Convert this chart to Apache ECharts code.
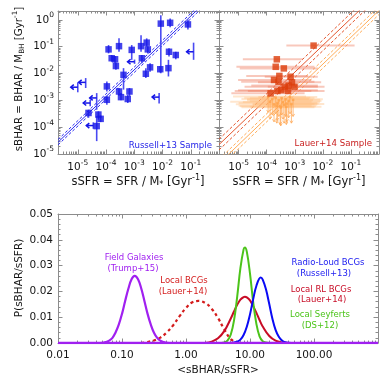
<!DOCTYPE html>
<html>
<head>
<meta charset="utf-8">
<script src="https://cdn.jsdelivr.net/npm/echarts@6/dist/echarts.min.js"></script>
<style>
  html, body { margin: 0; padding: 0; background: #fff; }
  #chart { width: 390px; height: 390px; }
</style>
</head>
<body>
<div id="chart"></div>
<script>
// ---- data (top panels in log10 units) ----
// Russell+13 detections: log sSFR, log sBHAR, vertical error bar ends
const rusLogSSFR  = [-4.62, -4.33, -4.27, -4.19, -3.97, -3.97, -3.91, -3.80, -3.68, -3.65, -3.54, -3.54, -3.47, -3.38, -3.23,
                     -3.17, -3.09, -2.76, -2.73, -2.59, -2.56, -2.52, -2.44, -2.08, -2.06, -1.73, -1.79, -1.77, -1.53, -1.10];
const rusLogSBHAR = [-3.47, -3.96, -3.53, -3.69, -2.48, -2.98, -1.10, -1.43, -1.47, -1.72, -0.98, -2.67, -2.88, -2.05, -2.95,
                     -2.67, -1.12, -0.98, -1.43, -2.01, -0.85, -1.10, -1.77, -1.84, -0.14, -0.11, -1.80, -1.19, -1.31, -0.17];
const rusErrHi    = [-3.35, -3.59, -3.41, -3.57, -2.30, -2.83, -0.94, -1.31, -1.35, -1.59, -0.69, -2.54, -2.73, -1.80, -2.79,
                     -2.54, -0.94, -0.57, -1.31, -1.80, -0.69, -0.98, -1.62, -1.72, 0.17, 0.05, -1.49, -1.06, -1.19, 0.01];
const rusErrLo    = [-3.65, -4.52, -3.72, -3.81, -2.67, -3.16, -1.25, -1.56, -1.62, -1.86, -1.19, -2.83, -3.00, -2.60, -3.10,
                     -2.85, -1.49, -1.19, -1.62, -2.17, -1.00, -1.25, -1.93, -1.96, -1.99, -0.28, -2.11, -1.37, -1.47, -0.36];
// Russell+13 upper limits on sSFR (left arrows)
const rusLimLogSSFR  = [-5.00, -4.72, -4.56, -4.33, -4.45, -2.99, -2.12, -0.90];
const rusLimLogSBHAR = [-2.51, -2.33, -3.10, -2.91, -3.94, -1.56, -2.88, -1.19];
const rusLimErrHi    = [-2.33, -2.17, -2.98, -2.73, -3.82, -1.48, -2.73, -0.85];
const rusLimErrLo    = [-2.70, -2.54, -3.22, -3.35, -4.06, -1.64, -3.12, -1.49];

// Lauer+14 radio-loud BCGs (red squares) with sSFR ranges
const lauLogSSFR  = [-2.33, -3.64, -3.68, -3.39, -3.55, -3.74, -3.15, -3.58, -3.10, -3.22, -3.36, -3.01, -3.48, -3.24, -3.62, -3.86];
const lauLogSBHAR = [-0.96, -1.47, -1.75, -1.81, -2.09, -2.24, -2.12, -2.31, -2.33, -2.45, -2.49, -2.49, -2.62, -2.65, -2.65, -2.74];
const lauSSFRLo   = [-3.30, -4.85, -5.08, -4.96, -4.73, -5.02, -4.07, -4.91, -4.31, -4.55, -4.79, -3.96, -5.02, -4.67, -5.14, -5.26];
const lauSSFRHi   = [-0.87, -2.71, -2.30, -2.18, -2.53, -2.41, -2.18, -2.30, -2.06, -2.18, -1.94, -2.18, -2.18, -1.94, -2.41, -2.65];

// Lauer+14 other BCGs (orange, upper limits on sBHAR)
const bcgLogSSFR  = [-3.95, -3.88, -3.80, -3.74, -3.68, -3.62, -3.57, -3.52, -3.47, -3.42, -3.38, -3.33, -3.28, -3.22, -3.17, -3.12, -3.06, -3.50, -3.64, -3.30];
const bcgLogSBHAR = [-2.86, -3.05, -2.95, -3.15, -2.90, -3.10, -3.00, -3.22, -2.92, -3.06, -3.16, -2.96, -3.12, -3.02, -2.88, -3.14, -2.98, -3.26, -3.20, -3.24];
const bcgSSFRLo   = [-5.20, -5.30, -4.90, -5.10, -4.80, -5.00, -4.70, -4.95, -4.60, -4.85, -4.50, -4.70, -4.40, -4.60, -4.30, -4.50, -4.20, -4.90, -5.00, -4.60];
const bcgSSFRHi   = [-2.60, -2.40, -2.50, -2.30, -2.45, -2.20, -2.35, -2.25, -2.30, -2.10, -2.20, -2.00, -2.15, -2.05, -2.20, -1.95, -2.10, -2.30, -2.40, -2.05];
const bcgLimTip   = [-3.45, -3.70, -3.55, -3.80, -3.50, -3.75, -3.60, -3.90, -3.55, -3.70, -3.85, -3.60, -3.80, -3.65, -3.50, -3.85, -3.60, -3.95, -3.85, -3.90];

// mean log(sBHAR/sSFR) relations and their scatter (dex)
const rusRel = [1.14, 0.10];
const rlRel  = [1.05, 0.20];
const bcgRel = [0.35, 0.15];

// ---- bottom panel distributions: <sBHAR/sSFR> and P ----
const fieldX = [0.040, 0.050, 0.056, 0.063, 0.071, 0.079, 0.089, 0.100, 0.112, 0.126, 0.141, 0.158, 0.178, 0.200, 0.224, 0.251, 0.282, 0.316, 0.355, 0.398, 0.447, 0.501, 0.600];
const fieldP = [0, 0.0001, 0.0004, 0.0009, 0.0020, 0.0040, 0.0071, 0.0113, 0.0163, 0.0211, 0.0247, 0.0260, 0.0247, 0.0211, 0.0163, 0.0113, 0.0071, 0.0040, 0.0020, 0.0009, 0.0004, 0.0001, 0];
const lbcgX = [0.20, 0.251, 0.316, 0.398, 0.501, 0.631, 0.794, 1.00, 1.26, 1.58, 2.00, 2.51, 3.16, 3.98, 5.01, 6.31, 7.0];
const lbcgP = [0, 0.0004, 0.0010, 0.0021, 0.0041, 0.0069, 0.0104, 0.0136, 0.0158, 0.0163, 0.0155, 0.0133, 0.0097, 0.0052, 0.0015, 0.0002, 0];
const rlX = [2.0, 2.51, 3.16, 3.98, 5.01, 5.62, 6.31, 7.08, 7.94, 8.32, 8.91, 10.0, 11.2, 12.6, 14.1, 15.8, 20.0, 25.1, 31.6, 39.8];
const rlP = [0, 0.0005, 0.0018, 0.0047, 0.0095, 0.0122, 0.0148, 0.0168, 0.0178, 0.0179, 0.0177, 0.0165, 0.0143, 0.0117, 0.0089, 0.0064, 0.0027, 0.0009, 0.0002, 0];
const seyX = [3.55, 3.98, 4.47, 5.01, 5.62, 6.31, 7.08, 7.94, 8.32, 8.91, 10.0, 11.2, 12.6, 14.1, 15.8, 17.8, 20.0];
const seyP = [0, 0.0002, 0.0010, 0.0033, 0.0087, 0.0180, 0.0290, 0.0363, 0.0370, 0.0354, 0.0269, 0.0159, 0.0073, 0.0026, 0.0007, 0.0002, 0];
const rusX = [5.01, 5.62, 6.31, 7.08, 7.94, 8.91, 10.0, 11.2, 12.6, 14.7, 15.8, 17.8, 20.0, 22.4, 25.1, 28.2, 31.6, 35.5, 39.8, 50.1];
const rusP = [0, 0.0002, 0.0005, 0.0013, 0.0031, 0.0063, 0.0111, 0.0169, 0.0222, 0.0254, 0.0246, 0.0207, 0.0151, 0.0094, 0.0051, 0.0024, 0.0010, 0.0003, 0.0001, 0];

// tick labels
const topTickExp = [-5, -4, -3, -2, -1];
const sbharTickExp = [0, -1, -2, -3, -4, -5];
const ratioTicks = [0.01, 0.1, 1, 10, 100];

// ---- layout / style ----
const FONT = 'DejaVu Sans';
const GRAY = '#8c8c8c';
const INK = '#151515';
const X_RANGE = [-5.7, 0];
const Y_RANGE = [-5, 0.33];
const BLUE = '#1414e6';
const PURPLE = '#a020f0';

const chart = echarts.init(document.getElementById('chart'));

function minorLogTicks(min, max) {
  const out = [];
  for (let d = Math.floor(min); d < max; d++) {
    for (let k = 2; k <= 9; k++) {
      const v = d + Math.log10(k);
      if (v > min && v < max) out.push(v);
    }
  }
  return out;
}

const expRich = {
  b: { fontFamily: FONT, fontSize: 10.5, color: INK },
  s: { fontFamily: FONT, fontSize: 7.5, color: INK, padding: [0, 0, 9, 0] }
};
const expFmt = v => '{b|10}{s|' + Math.round(v) + '}';

// four axes per grid and dimension: main, mirror, minor main, minor mirror
function axisSet(dim, gridIndex, min, max, o) {
  const base = { type: 'value', gridIndex, min, max, splitLine: { show: false } };
  const pos = dim === 'x' ? ['bottom', 'top'] : ['left', 'right'];
  const tick = (vals, len) => ({ show: true, inside: true, length: len, customValues: vals, lineStyle: { color: GRAY, width: 1 } });
  const list = [];
  list.push(Object.assign({}, base, o.extra || {}, {
    position: pos[0],
    axisLine: { show: true, onZero: false, lineStyle: { color: GRAY, width: 1 } },
    axisTick: o.majors ? tick(o.majors, 4.5) : { show: true, inside: true, length: 4.5, lineStyle: { color: GRAY } },
    axisLabel: o.labels === false ? { show: false } : Object.assign({
      show: true, color: INK, fontFamily: FONT, fontSize: 10.5
    }, o.labels)
  }));
  list.push(Object.assign({}, base, o.extra || {}, {
    position: pos[1],
    axisLine: { show: true, onZero: false, lineStyle: { color: GRAY, width: 1 } },
    axisTick: o.majors ? tick(o.majors, 4.5) : { show: true, inside: true, length: 4.5, lineStyle: { color: GRAY } },
    axisLabel: { show: false }
  }));
  if (o.minors) {
    pos.forEach(p => list.push(Object.assign({}, base, {
      position: p,
      axisLine: { show: false, onZero: false },
      axisTick: tick(o.minors, 2.5),
      axisLabel: { show: false }
    })));
  }
  return list;
}

const topMinX = minorLogTicks(X_RANGE[0], X_RANGE[1]);
const topMinY = minorLogTicks(Y_RANGE[0], Y_RANGE[1]);
const topXLabels = { customValues: topTickExp, formatter: expFmt, rich: expRich, margin: 5 };

const xAxes = [].concat(
  axisSet('x', 0, X_RANGE[0], X_RANGE[1], { majors: topTickExp, minors: topMinX, labels: topXLabels }),
  axisSet('x', 1, X_RANGE[0], X_RANGE[1], { majors: topTickExp, minors: topMinX, labels: topXLabels }),
  axisSet('x', 2, -2, 3, {
    majors: [-1, 0, 1, 2], minors: minorLogTicks(-2, 3),
    labels: { customValues: ratioTicks.map(Math.log10), formatter: v => Math.pow(10, v).toFixed(2), margin: 7 }
  })
);
const yAxes = [].concat(
  axisSet('y', 0, Y_RANGE[0], Y_RANGE[1], {
    majors: sbharTickExp, minors: topMinY,
    labels: { customValues: sbharTickExp, formatter: expFmt, rich: expRich, margin: 4 }
  }),
  axisSet('y', 1, Y_RANGE[0], Y_RANGE[1], { majors: sbharTickExp, minors: topMinY, labels: false }),
  axisSet('y', 2, 0, 0.05, {
    extra: { interval: 0.01, minorTick: { show: true, splitNumber: 5, length: 2.5, lineStyle: { color: GRAY } } },
    labels: { formatter: v => v.toFixed(2), margin: 5 }
  })
);

// ---- series helpers ----
const ax = g => ({ xAxisIndex: g * 4, yAxisIndex: g * 4 });

function segSeries(g, data, color, width, vertical, z) {
  // data rows: [fixed coordinate, from, to]
  return Object.assign({
    type: 'custom', silent: true, z, data,
    renderItem: (p, api) => {
      const f = api.value(0), a = api.value(1), b = api.value(2);
      const p1 = api.coord(vertical ? [f, a] : [a, f]);
      const p2 = api.coord(vertical ? [f, b] : [b, f]);
      return { type: 'line', shape: { x1: p1[0], y1: p1[1], x2: p2[0], y2: p2[1] }, style: { stroke: color, lineWidth: width } };
    }
  }, ax(g));
}

function leftArrowSeries(g, xs, ys, color, z) {
  return Object.assign({
    type: 'custom', silent: true, z,
    data: xs.map((x, i) => [x, ys[i]]),
    renderItem: (p, api) => {
      const c = api.coord([api.value(0), api.value(1)]);
      const L = 7;
      return {
        type: 'group', children: [
          { type: 'line', shape: { x1: c[0], y1: c[1], x2: c[0] - L, y2: c[1] }, style: { stroke: color, lineWidth: 1.5 } },
          { type: 'polyline', shape: { points: [[c[0] - L + 3, c[1] - 2.5], [c[0] - L, c[1]], [c[0] - L + 3, c[1] + 2.5]] }, style: { stroke: color, lineWidth: 1.5, fill: null } }
        ]
      };
    }
  }, ax(g));
}

function downArrowSeries(g, xs, ys, tips, color, z) {
  return Object.assign({
    type: 'custom', silent: true, z,
    data: xs.map((x, i) => [x, ys[i], tips[i]]),
    renderItem: (p, api) => {
      const a = api.coord([api.value(0), api.value(1)]);
      const b = api.coord([api.value(0), api.value(2)]);
      return {
        type: 'group', children: [
          { type: 'line', shape: { x1: a[0], y1: a[1], x2: b[0], y2: b[1] }, style: { stroke: color, lineWidth: 0.9 } },
          { type: 'polyline', shape: { points: [[b[0] - 1.5, b[1] - 2.5], [b[0], b[1]], [b[0] + 1.5, b[1] - 2.5]] }, style: { stroke: color, lineWidth: 0.9, fill: null } }
        ]
      };
    }
  }, ax(g));
}

function relLines(g, rel, color, z) {
  const out = [];
  [-1, 0, 1].forEach(k => {
    const off = rel[0] + k * rel[1];
    out.push(Object.assign({
      type: 'line', silent: true, z, symbol: 'none', clip: true,
      data: [[X_RANGE[0], X_RANGE[0] + off], [X_RANGE[1], X_RANGE[1] + off]],
      lineStyle: { color, width: 1, type: k === 0 ? 'solid' : [3, 2] }
    }, ax(g)));
  });
  return out;
}

function curve(xs, ps, color, type, width, z) {
  return Object.assign({
    type: 'line', silent: true, z, symbol: 'none', smooth: 0.4, clip: true,
    data: xs.map((x, i) => [Math.log10(x), ps[i]]),
    lineStyle: { color, width, type }
  }, ax(2));
}

const series = [].concat(
  // left panel
  relLines(0, rusRel, '#2a2af0', 2),
  segSeries(0, rusLogSSFR.map((x, i) => [x, rusErrLo[i], rusErrHi[i]]), '#4a4af2', 1.6, true, 3),
  segSeries(0, rusLimLogSSFR.map((x, i) => [x, rusLimErrLo[i], rusLimErrHi[i]]), '#4a4af2', 1.6, true, 3),
  leftArrowSeries(0, rusLimLogSSFR, rusLimLogSBHAR, BLUE, 4),
  [Object.assign({
    type: 'scatter', silent: true, z: 5, symbol: 'rect', symbolSize: 6.5,
    data: rusLogSSFR.map((x, i) => [x, rusLogSBHAR[i]]),
    itemStyle: { color: BLUE }
  }, ax(0))],
  // right panel
  relLines(1, rlRel, '#e4552c', 2),
  relLines(1, bcgRel, '#ffad5a', 2),
  segSeries(1, bcgLogSBHAR.map((y, i) => [y, bcgSSFRLo[i], bcgSSFRHi[i]]), 'rgba(255,185,120,0.36)', 2, false, 3),
  segSeries(1, lauLogSBHAR.map((y, i) => [y, lauSSFRLo[i], lauSSFRHi[i]]), 'rgba(238,125,95,0.42)', 2, false, 3),
  downArrowSeries(1, bcgLogSSFR, bcgLogSBHAR, bcgLimTip, 'rgba(255,165,80,0.8)', 4),
  [Object.assign({
    type: 'scatter', silent: true, z: 4, symbol: 'rect', symbolSize: 2.5,
    data: bcgLogSSFR.map((x, i) => [x, bcgLogSBHAR[i]]),
    itemStyle: { color: '#ffa24a' }
  }, ax(1)),
  Object.assign({
    type: 'scatter', silent: true, z: 5, symbol: 'rect', symbolSize: 6.5,
    data: lauLogSSFR.map((x, i) => [x, lauLogSBHAR[i]]),
    itemStyle: { color: '#dc3c0a' }
  }, ax(1))],
  // bottom panel
  [
    curve(lbcgX, lbcgP, '#d41c1c', [3, 3], 2.2, 2),
    curve(rlX, rlP, '#c80c26', 'solid', 2, 3),
    curve(seyX, seyP, '#4cc41a', 'solid', 2, 3),
    curve(rusX, rusP, '#0a0af5', 'solid', 2, 3),
    curve(fieldX, fieldP, PURPLE, 'solid', 2.2, 4),
    Object.assign({
      type: 'line', silent: true, z: 4, symbol: 'none',
      data: [[-2, 0], [3, 0]],
      lineStyle: { color: PURPLE, width: 2.5 }
    }, ax(2))
  ]
);

// ---- text ----
function makeRich(size) {
  return {
    t: { fontFamily: FONT, fontSize: size, fill: INK },
    sub: { fontFamily: FONT, fontSize: size * 0.7, fill: INK, padding: [6, 0, 0, 0] },
    sup: { fontFamily: FONT, fontSize: size * 0.7, fill: INK, padding: [0, 0, 8, 0] }
  };
}
const ssfrTitle = '{t|sSFR = SFR / M}{sub|*}{t| [Gyr}{sup|-1}{t|]}';

function txt(x, y, text, color, size, extra) {
  return Object.assign({
    type: 'text', x, y, silent: true,
    style: { text, fill: color, fontFamily: FONT, fontSize: size, align: 'center', verticalAlign: 'middle' }
  }, extra || {});
}
function richTxt(x, y, text, size, rot) {
  return {
    type: 'text', x, y, rotation: rot || 0, silent: true,
    style: { text, rich: makeRich(size), fill: INK, fontFamily: FONT, fontSize: size, align: 'center', verticalAlign: 'middle' }
  };
}

const graphics = [
  richTxt(19, 79, '{t|sBHAR = BHAR / M}{sub|BH}{t| [Gyr}{sup|-1}{t|]}', 10.3, Math.PI / 2),
  richTxt(138, 182, ssfrTitle, 11.5),
  richTxt(299, 182, ssfrTitle, 11.5),
  txt(19, 278, 'P(sBHAR/sSFR)', INK, 10.5, { rotation: Math.PI / 2 }),
  txt(218, 370, '<sBHAR/sSFR>', INK, 10.5),
  txt(212, 145.5, 'Russell+13 Sample', '#2424e8', 8.6),
  txt(372, 144, 'Lauer+14 Sample', '#c81e1e', 8.6),
  txt(134, 258, 'Field Galaxies', PURPLE, 8.5),
  txt(133, 268.5, '(Trump+15)', PURPLE, 8.5),
  txt(184, 281, 'Local BCGs', '#d41c1c', 8.5),
  txt(183, 291.5, '(Lauer+14)', '#d41c1c', 8.5),
  txt(328, 263, 'Radio-Loud BCGs', '#1a1af0', 8.5),
  txt(324, 273.5, '(Russell+13)', '#1a1af0', 8.5),
  txt(321, 289.5, 'Local RL BCGs', '#c80c26', 8.5),
  txt(322, 299.5, '(Lauer+14)', '#c80c26', 8.5),
  txt(320, 315, 'Local Seyferts', '#4cc41a', 8.5),
  txt(320, 326, '(DS+12)', '#4cc41a', 8.5)
];
// right-align the two sample labels
graphics[5].style.align = 'right';
graphics[6].style.align = 'right';

chart.setOption({
  animation: false,
  backgroundColor: '#fff',
  grid: [
    { left: 58, top: 11, width: 161, height: 143, outerBoundsMode: 'none', containLabel: false },
    { left: 219, top: 11, width: 160, height: 143, outerBoundsMode: 'none', containLabel: false },
    { left: 58, top: 214, width: 320, height: 129, outerBoundsMode: 'none', containLabel: false }
  ],
  xAxis: xAxes,
  yAxis: yAxes,
  series,
  graphic: graphics
});
</script>
</body>
</html>
